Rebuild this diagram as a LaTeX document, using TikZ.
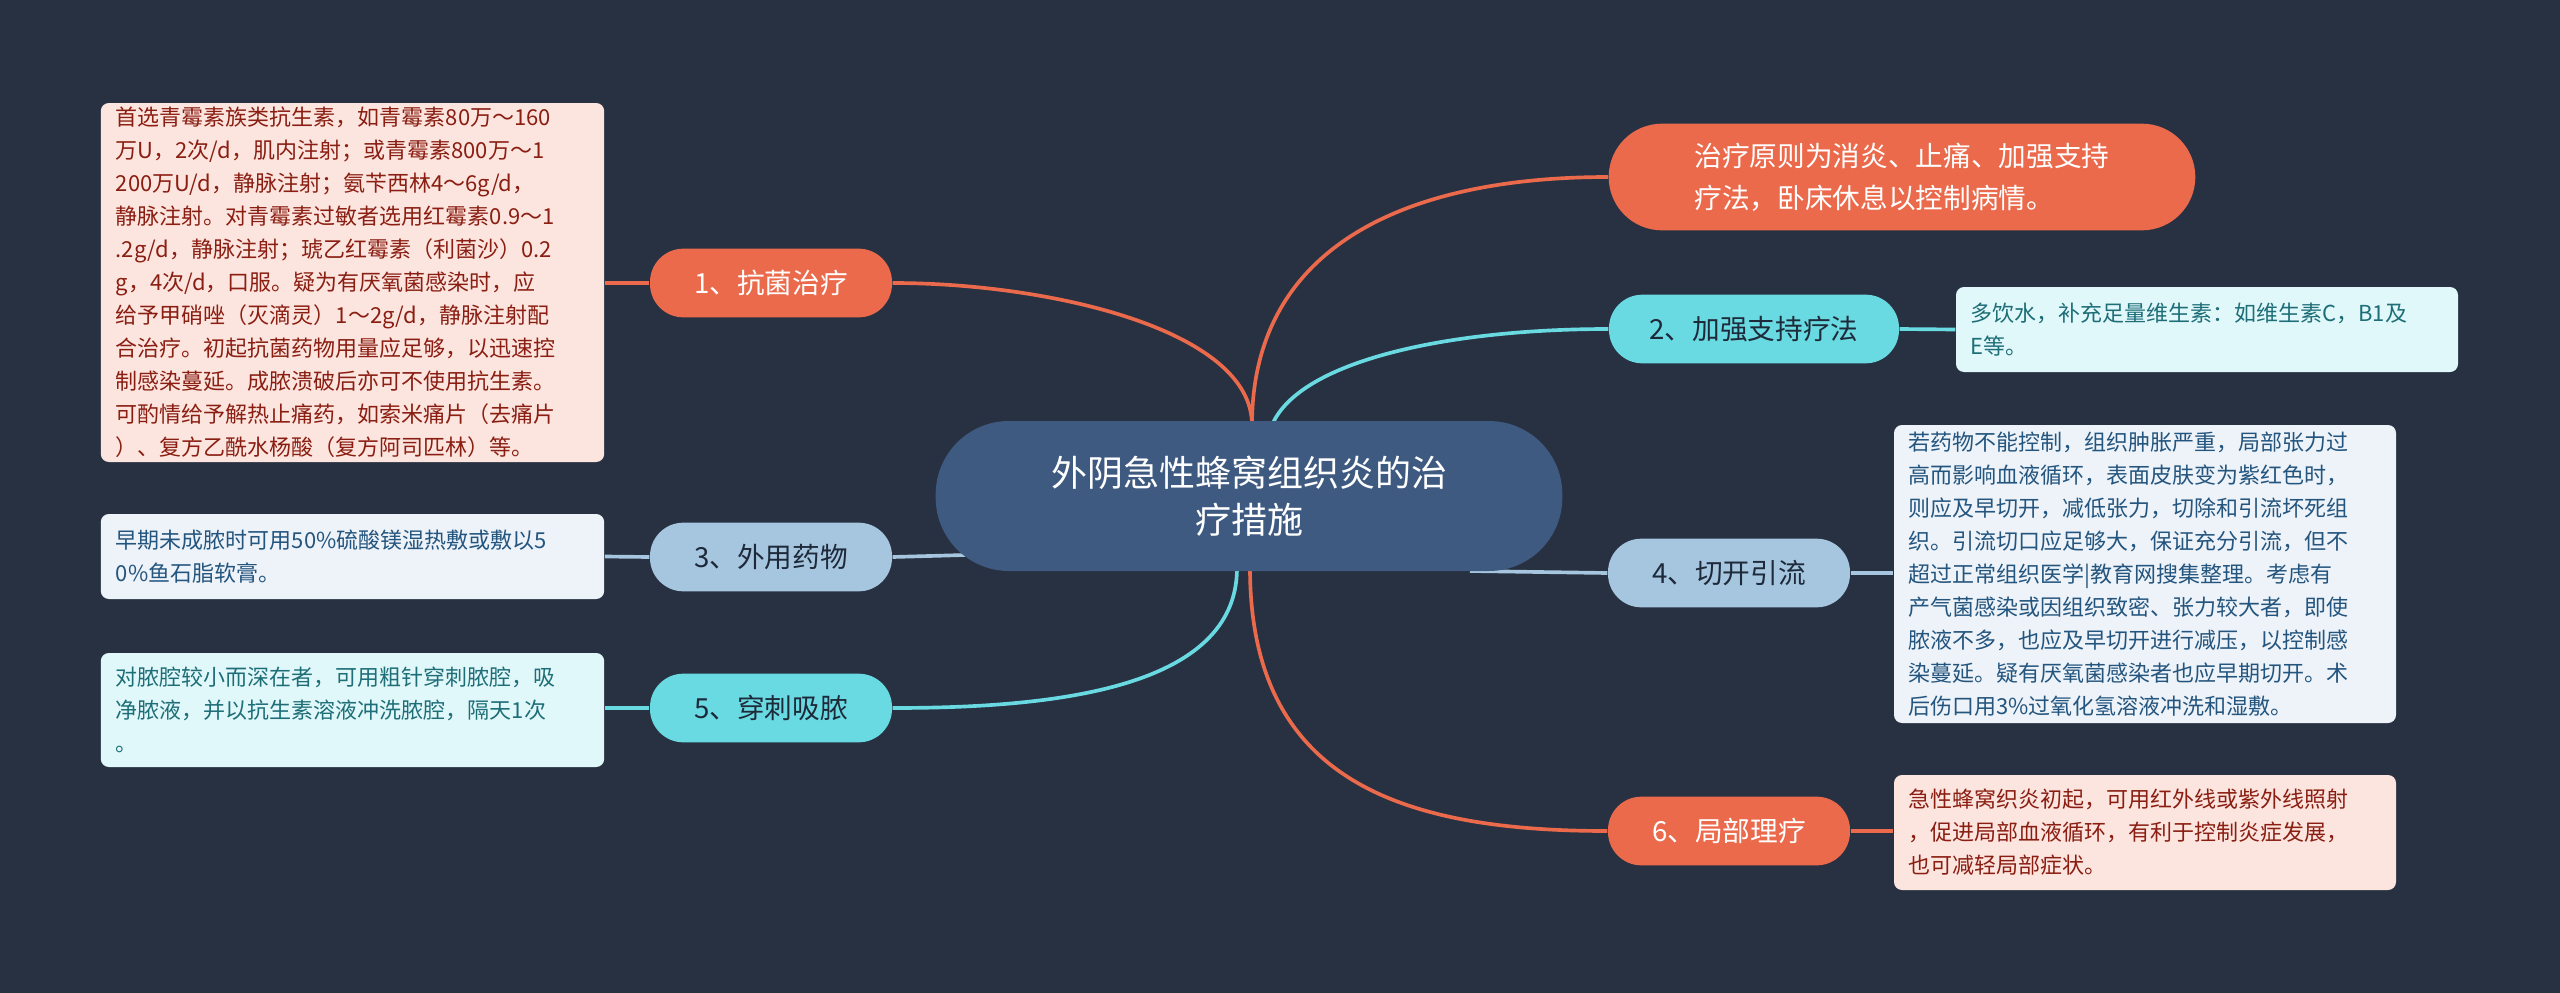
\documentclass[tikz,border=0pt]{standalone}
\usepackage{fontspec}
\setmainfont{Noto Sans CJK SC}
\definecolor{bg}{HTML}{283142}
\definecolor{cen}{HTML}{3E5A80}
\definecolor{org}{HTML}{EC6A4C}
\definecolor{cya}{HTML}{6ADAE2}
\definecolor{lbl}{HTML}{A6C6E0}
\definecolor{pinkf}{HTML}{FDE5DF}
\definecolor{pinkt}{HTML}{8A1E12}
\definecolor{cyaf}{HTML}{E1F8FA}
\definecolor{cyat}{HTML}{1E6E78}
\definecolor{bluf}{HTML}{EDF3F9}
\definecolor{blut}{HTML}{24557E}
\definecolor{dk}{HTML}{1E2A3A}
\begin{document}
\begin{tikzpicture}[x=0.3pt,y=-0.3pt,
  lvl/.style={rounded corners=10pt,inner sep=0pt,minimum height=20.6pt,font=\fontsize{8.3}{11}\selectfont},
  det/.style={rounded corners=2.4pt,inner sep=0pt,align=left,font=\fontsize{6.6}{9.9}\selectfont},
  cenbox/.style={fill=cen,rounded corners=22pt,minimum width=188pt,minimum height=45pt,align=center,text=white,font=\fontsize{10.8}{14}\selectfont},
  ln/.style={line width=1.1pt}]
\fill[bg] (0,0) rectangle (2560,993);
\useasboundingbox (0,0) rectangle (2560,993);
% connector start points
\coordinate (s0) at (1252,425);
\coordinate (s1) at (1252,425);
\coordinate (s2) at (1272,425);
\coordinate (s3) at (965,555);
\coordinate (s4) at (1470,571);
\coordinate (s5) at (1237,568);
\coordinate (s6) at (1250,568);
% level 1
\node[lvl,fill=org,text=white,minimum width=72.6pt] (n1) at (771,283) {1、抗菌治疗};
\node[lvl,fill=org,text=white,minimum width=176pt,minimum height=32pt,rounded corners=16pt,align=left,font=\fontsize{8.3}{12.7}\selectfont] (n0) at (1902,177) {治疗原则为消炎、止痛、加强支持\\疗法，卧床休息以控制病情。};
\node[lvl,fill=cya,text=dk,minimum width=87pt] (n2) at (1754,329) {2、加强支持疗法};
\node[lvl,fill=lbl,text=dk,minimum width=72.6pt] (n3) at (771,557) {3、外用药物};
\node[lvl,fill=lbl,text=dk,minimum width=72.6pt] (n4) at (1729,573) {4、切开引流};
\node[lvl,fill=cya,text=dk,minimum width=72.6pt] (n5) at (771,708) {5、穿刺吸脓};
\node[lvl,fill=org,text=white,minimum width=72.6pt] (n6) at (1729,831) {6、局部理疗};
% details
\node[det,fill=pinkf,text=pinkt,minimum width=151pt,minimum height=107.7pt] (d1) at (352.5,282.5) {\parbox{142pt}{\raggedright 首选青霉素族类抗生素，如青霉素80万～160\\万U，2次/d，肌内注射；或青霉素800万～1\\200万U/d，静脉注射；氨苄西林4～6g/d，\\静脉注射。对青霉素过敏者选用红霉素0.9～1\\.2g/d，静脉注射；琥乙红霉素（利菌沙）0.2\\g，4次/d，口服。疑为有厌氧菌感染时，应\\给予甲硝唑（灭滴灵）1～2g/d，静脉注射配\\合治疗。初起抗菌药物用量应足够，以迅速控\\制感染蔓延。成脓溃破后亦可不使用抗生素。\\可酌情给予解热止痛药，如索米痛片（去痛片\\）、复方乙酰水杨酸（复方阿司匹林）等。}};
\node[det,fill=cyaf,text=cyat,minimum width=150.6pt,minimum height=25.5pt] (d2) at (2207,329.5) {\parbox{142pt}{\raggedright 多饮水，补充足量维生素：如维生素C，B1及\\E等。}};
\node[det,fill=bluf,text=blut,minimum width=151pt,minimum height=25.5pt] (d3) at (352.5,556.5) {\parbox{142pt}{\raggedright 早期未成脓时可用50\%硫酸镁湿热敷或敷以5\\0\%鱼石脂软膏。}};
\node[det,fill=bluf,text=blut,minimum width=150.6pt,minimum height=89.4pt] (d4) at (2145,574) {\parbox{142pt}{\raggedright 若药物不能控制，组织肿胀严重，局部张力过\\高而影响血液循环，表面皮肤变为紫红色时，\\则应及早切开，减低张力，切除和引流坏死组\\织。引流切口应足够大，保证充分引流，但不\\超过正常组织医学|教育网搜集整理。考虑有\\产气菌感染或因组织致密、张力较大者，即使\\脓液不多，也应及早切开进行减压，以控制感\\染蔓延。疑有厌氧菌感染者也应早期切开。术\\后伤口用3\%过氧化氢溶液冲洗和湿敷。}};
\node[det,fill=cyaf,text=cyat,minimum width=151pt,minimum height=34.2pt] (d5) at (352.5,710) {\parbox{142pt}{\raggedright 对脓腔较小而深在者，可用粗针穿刺脓腔，吸\\净脓液，并以抗生素溶液冲洗脓腔，隔天1次\\。}};
\node[det,fill=pinkf,text=pinkt,minimum width=150.6pt,minimum height=34.5pt] (d6) at (2145,832.5) {\parbox{142pt}{\raggedright 急性蜂窝织炎初起，可用红外线或紫外线照射\\，促进局部血液循环，有利于控制炎症发展，\\也可减轻局部症状。}};
% connectors
\draw[ln,org] (s0) .. controls (1252,250) and (1400,177) .. (n0.west);
\draw[ln,org] (s1) .. controls (1252,330) and (1050,283) .. (n1.east);
\draw[ln,cya] (s2) .. controls (1300,360) and (1450,329) .. (n2.west);
\draw[ln,lbl] (s3) -- (n3.east);
\draw[ln,lbl] (s4) -- (n4.west);
\draw[ln,cya] (s5) .. controls (1237,690) and (1050,708) .. (n5.east);
\draw[ln,org] (s6) .. controls (1250,780) and (1400,831) .. (n6.west);
\draw[ln,org] (n1.west) -- (d1.east |- n1.west);
\draw[ln,cya] (n2.east) -- (d2.west);
\draw[ln,lbl] (n3.west) -- (d3.east);
\draw[ln,lbl] (n4.east) -- (d4.west |- n4.east);
\draw[ln,cya] (n5.west) -- (d5.east |- n5.west);
\draw[ln,org] (n6.east) -- (d6.west |- n6.east);
% center on top
\node[cenbox] (c) at (1249,496) {外阴急性蜂窝组织炎的治\\疗措施};
\end{tikzpicture}
\end{document}
